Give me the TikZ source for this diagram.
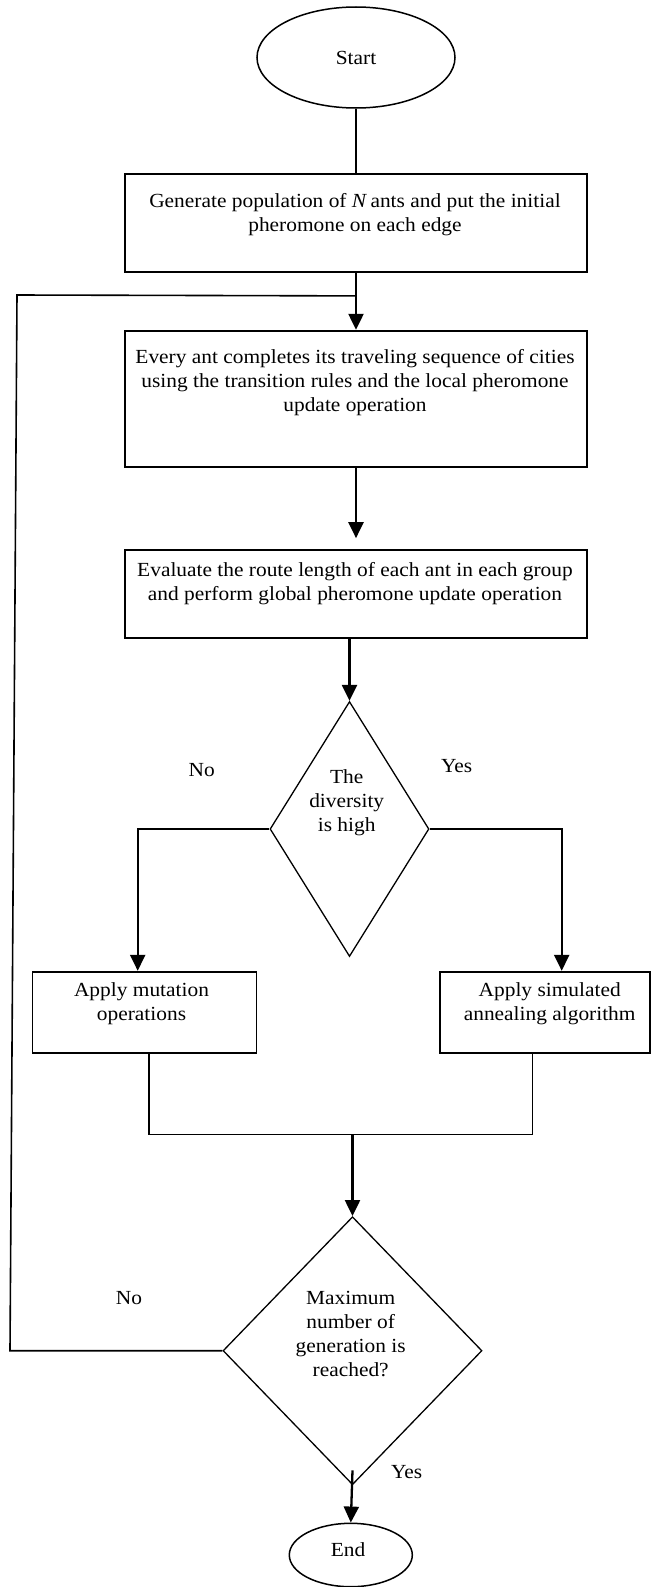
\documentclass[tikz,border=0pt]{standalone}
\usepackage{fontspec}
\setmainfont{Liberation Serif}[FakeStretch=1.07]
\usetikzlibrary{shapes.geometric,arrows.meta,calc}
\begin{document}
\begin{tikzpicture}[x=1pt,y=-1pt,
  every node/.style={font=\fontsize{20}{24}\selectfont},
  procbox/.style={draw, rectangle, line width=1.8pt, inner sep=0pt},
  term/.style={draw, ellipse, line width=1.5pt, inner sep=0pt},
  decis/.style={draw, diamond, line width=1.3pt, inner sep=0pt},
  txt/.style={align=center, inner sep=0pt},
  flow/.style={line width=2.3pt, -{Triangle[length=16pt,width=15pt]}},
  plain/.style={line width=1.6pt}]
\useasboundingbox (0,0) rectangle (652,1587);

% nodes
\node[term, minimum width=198pt, minimum height=101pt] (start) at (356,57.5) {Start};
\node[procbox, minimum width=462pt, minimum height=97.4pt] (b1) at (356,223) {};
\node[txt] (t1) at (355,215) {Generate population of \textit{N}\,ants and put the initial\\pheromone on each edge};
\node[procbox, minimum width=462pt, minimum height=136pt] (b2) at (356,398.7) {};
\node[txt] (t2) at (355,383) {Every ant completes its traveling sequence of cities\\using the transition rules and the local pheromone\\update operation};
\node[procbox, minimum width=462pt, minimum height=88.3pt] (b3) at (356,594.2) {};
\node[txt] (t3) at (355,583.5) {Evaluate the route length of each ant in each group\\and perform global pheromone update operation};
\node[decis, minimum width=159pt, minimum height=255pt] (d1) at (349.5,829) {};
\node[txt] (td1) at (346.7,803) {The\\diversity\\is high};
\node[procbox, minimum width=224pt, minimum height=81.6pt] (b4) at (144.5,1012.5) {};
\node[txt] (t4) at (141.5,1003.5) {Apply mutation\\operations};
\node[procbox, minimum width=210.5pt, minimum height=81.6pt] (b5) at (545,1012.5) {};
\node[txt] (t5) at (549.7,1003.5) {Apply simulated\\annealing algorithm};
\node[decis, minimum width=259pt, minimum height=268pt] (d2) at (352.5,1350.7) {};
\node[txt] (td2) at (350.7,1334.5) {Maximum\\number of\\generation is\\reached?};
\node[term, minimum width=123pt, minimum height=63.4pt] (end) at (350.8,1555) {};
\node[txt] (tend) at (348,1550) {End};

% labels
\node[txt] (no1) at (201.7,770) {No};
\node[txt] (yes1) at (456.7,766) {Yes};
\node[txt] (no2) at (129,1298) {No};
\node[txt, fill=white, inner xsep=13pt, inner ysep=3pt] (yes2) at (406.7,1472) {Yes};

% coordinates
\coordinate (fbjoin) at ($(b1.south)+(0,23.3)$);
\coordinate (fbl) at (10,1350.7);
\coordinate (fbt) at (17,295);
\coordinate (b4in) at ($(b4.north)+(-6.8,0)$);
\coordinate (b5in) at ($(b5.north)+(16.7,0)$);
\coordinate (b4out) at ($(b4.south)+(4.4,0)$);
\coordinate (b5out) at ($(b5.south)+(-12.4,0)$);
\coordinate (mrgL) at (b4out |- 0,1134.3);
\coordinate (mrgR) at (b5out |- 0,1134.3);
\coordinate (mrg) at (d2.north |- 0,1134.3);
\coordinate (d2out) at ($(d2.south)+(0,-15)$);

% connectors
\draw[plain] (start.south) -- (b1.north);
\draw[flow] (b1.south) -- (b2.north);
\draw[plain] (d2.west) -- (fbl) -- (fbt) -- (fbjoin);
\draw[flow, shorten >=11pt] (b2.south) -- (b2.south |- b3.north);
\draw[flow] (d1.north |- b3.south) -- (d1.north);
\draw[flow] (d1.west) -| (b4in);
\draw[flow] (d1.east) -| (b5in);
\draw[plain] (b4out) -- (mrgL) -- (mrgR) -- (b5out);
\draw[flow] (mrg) -- (d2.north);
\draw[flow] (d2out) -- (end.north);
\end{tikzpicture}
\end{document}
